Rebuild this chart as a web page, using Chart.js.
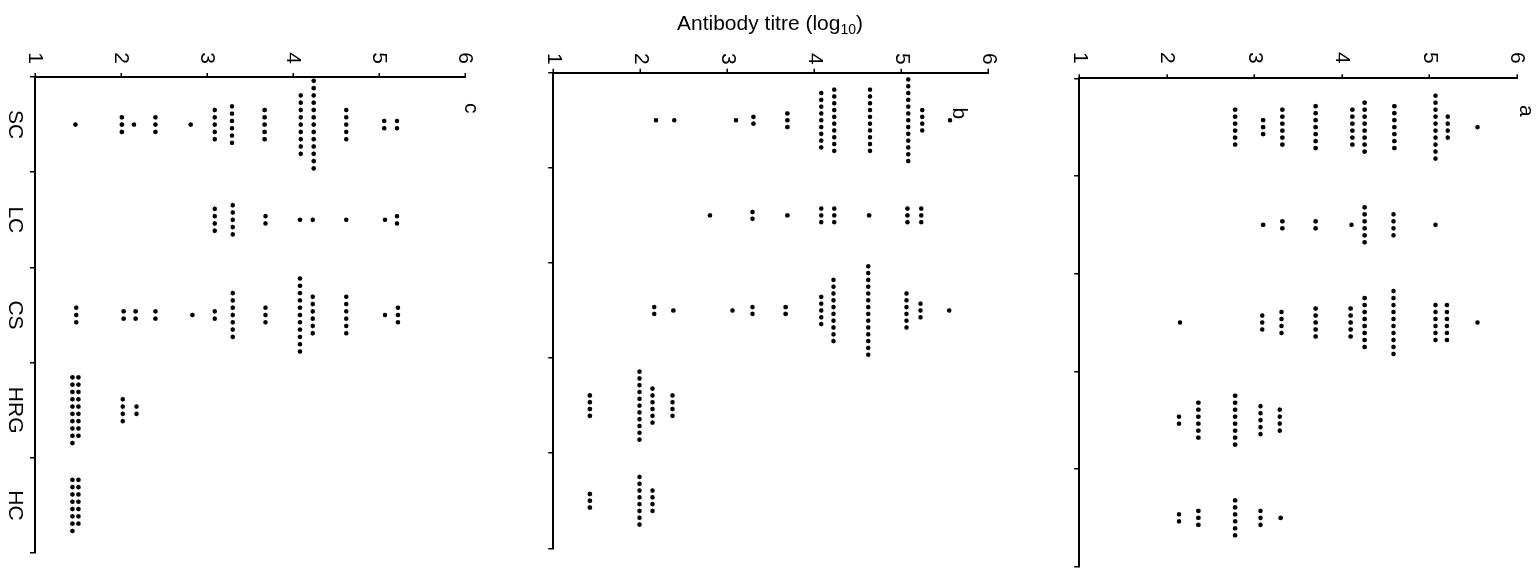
<!DOCTYPE html>
<html><head><meta charset="utf-8">
<script src="https://cdn.jsdelivr.net/npm/chart.js@4"></script>
<style>
html,body{margin:0;padding:0;background:#fff;overflow:hidden;width:1540px;height:569px;}
#title{position:absolute;left:0;top:11.5px;width:1540px;text-align:center;font-family:"Liberation Sans",Arial,sans-serif;font-size:21px;line-height:21px;color:#000;white-space:nowrap;}
#title sub{font-size:14px;vertical-align:baseline;position:relative;top:4px;}
#rot{position:absolute;left:0;top:0;width:569px;height:1540px;transform-origin:0 0;transform:translate(1540px,0) rotate(90deg);}
#rot canvas{position:absolute;left:0;}
</style></head>
<body>
<div id="rot">
<canvas id="pa" width="569" height="500" style="top:0px"></canvas>
<canvas id="pb" width="569" height="530" style="top:500px"></canvas>
<canvas id="pc" width="569" height="530" style="top:1030px"></canvas>
</div>
<div id="title">Antibody titre (log<sub>10</sub>)</div>
<script>
// ---------- data ----------
const categories = ['SC', 'LC', 'CS', 'HRG', 'HC'];
const titreTicks = [1, 2, 3, 4, 5, 6];
const panelNames = ['a', 'b', 'c'];

// each entry: [antibody titre (log10), number of sera with that titre]
// panel a
const a_SC  = [[2.78,6],[3.10,3],[3.32,6],[3.70,7],[4.12,6],[4.26,8],[4.60,7],[5.07,10],[5.21,4],[5.55,1]];
const a_LC  = [[3.10,1],[3.32,2],[3.70,2],[4.11,1],[4.26,6],[4.59,4],[5.07,1]];
const a_CS  = [[2.15,1],[3.09,3],[3.31,4],[3.70,5],[4.10,5],[4.26,8],[4.59,10],[5.07,6],[5.20,6],[5.55,1]];
const a_HRG = [[2.14,2],[2.36,6],[2.78,8],[3.07,5],[3.29,4]];
const a_HC  = [[2.14,2],[2.36,3],[2.78,6],[3.07,3],[3.30,1]];
// panel b
const b_SC  = [[2.18,1],[2.39,1],[3.10,1],[3.30,2],[3.69,3],[4.08,9],[4.23,10],[4.64,10],[5.08,13],[5.24,4],[5.56,1]];
const b_LC  = [[2.80,1],[3.29,2],[3.69,1],[4.08,3],[4.23,3],[4.63,1],[5.07,3],[5.23,3]];
const b_CS  = [[2.16,2],[2.38,1],[3.06,1],[3.29,2],[3.67,2],[4.08,5],[4.22,10],[4.62,14],[5.06,6],[5.22,3],[5.55,1]];
const b_HRG = [[1.42,4],[1.99,11],[2.14,6],[2.37,4]];
const b_HC  = [[1.42,3],[1.99,8],[2.14,4]];
// panel c
const c_SC  = [[1.47,1],[2.01,3],[2.15,1],[2.40,3],[2.81,1],[3.09,5],[3.29,6],[3.67,5],[4.09,9],[4.24,13],[4.62,5],[5.06,2],[5.21,2]];
const c_LC  = [[3.09,4],[3.30,5],[3.68,2],[4.08,1],[4.23,1],[4.62,1],[5.07,1],[5.21,2]];
const c_CS  = [[1.48,3],[2.03,2],[2.17,2],[2.40,2],[2.83,1],[3.09,2],[3.30,7],[3.68,3],[4.08,11],[4.23,6],[4.62,6],[5.07,1],[5.22,3]];
const c_HRG = [[1.47,19],[2.02,4],[2.18,2]];
const c_HC  = [[1.47,15]];

// ---------- layout / style ----------
const FONT = '"Liberation Sans", Arial, sans-serif';
const MAX_PER_COLUMN = 14;
const PAIR_HALF_GAP_PX = 3;
const Y_AXIS_W = 60;
const CANVAS_W = 569;

const panels = [
  {id:'pa', name:panelNames[0], groups:[a_SC,a_LC,a_CS,a_HRG,a_HC], L:78.3, R:567.7, T:17.7, B:460.7, H:500, xh:20, showCats:false, gap:7.0, tickPad:10.5, lab:{dx:32.5, dy:-2.7}},
  {id:'pb', name:panelNames[1], groups:[b_SC,b_LC,b_CS,b_HRG,b_HC], L:72.7, R:548.3, T:51.7, B:486.7, H:530, xh:20, showCats:false, gap:6.8, tickPad:4, lab:{dx:40.6, dy:35}},
  {id:'pc', name:panelNames[2], groups:[c_SC,c_LC,c_CS,c_HRG,c_HC], L:77, R:553, T:45, B:475, H:530, xh:40, showCats:true, gap:7.3, tickPad:9, lab:{dx:31.3, dy:0}}
];

function buildPoints(groupsByCat, gapPx, catPx, unitPx) {
  const pts = [];
  const step = gapPx / catPx;
  const pairOff = PAIR_HALF_GAP_PX / unitPx;
  groupsByCat.forEach((groups, ci) => {
    const centre = ci + 1;
    groups.forEach(([v, n]) => {
      if (n <= MAX_PER_COLUMN) {
        for (let k = 0; k < n; k++) pts.push({x: centre + (k - (n - 1) / 2) * step, y: v});
      } else {
        const rows = Math.ceil(n / 2);
        for (let k = 0; k < n; k++) {
          const r = Math.floor(k / 2), c = k % 2;
          pts.push({x: centre + (r - (rows - 1) / 2) * step, y: v + (c ? 1 : -1) * pairOff});
        }
      }
    });
  });
  return pts;
}

const panelLabelPlugin = {
  id: 'panelLabel',
  afterDraw(chart, args, opts) {
    const {ctx, chartArea} = chart;
    ctx.save();
    ctx.font = '21px ' + FONT;
    ctx.fillStyle = '#000';
    ctx.textAlign = 'center';
    ctx.textBaseline = 'alphabetic';
    ctx.fillText(opts.text, chartArea.left + opts.dx, chartArea.top + opts.dy);
    ctx.restore();
  }
};

Chart.defaults.font.family = FONT;
Chart.defaults.color = '#000';

panels.forEach(p => {
  const catPx = (p.R - p.L) / categories.length;
  const unitPx = (p.B - p.T) / (titreTicks[titreTicks.length - 1] - titreTicks[0]);
  const pts = buildPoints(p.groups, p.gap, catPx, unitPx);
  new Chart(document.getElementById(p.id), {
    type: 'scatter',
    data: {datasets: [{data: pts, backgroundColor: '#000', borderWidth: 0, pointRadius: 2.3, pointHoverRadius: 2.3}]},
    plugins: [panelLabelPlugin],
    options: {
      responsive: false,
      animation: false,
      devicePixelRatio: 1,
      events: [],
      layout: {padding: {left: p.L - Y_AXIS_W, right: CANVAS_W - p.R, top: p.T, bottom: p.H - p.B - p.xh}},
      plugins: {legend: {display: false}, tooltip: {enabled: false}, panelLabel: {text: p.name, dx: p.lab.dx, dy: p.lab.dy}},
      scales: {
        x: {
          type: 'linear', position: 'bottom',
          min: 0.5, max: categories.length + 0.5,
          afterBuildTicks: s => { s.ticks = categories.map((c, i) => ({value: i + 1})); },
          afterFit: s => { s.height = p.xh; },
          grid: {offset: true, drawOnChartArea: false, drawTicks: true, tickLength: 5, color: '#000', lineWidth: 1.5},
          border: {display: true, color: '#000', width: 2},
          ticks: {display: p.showCats, autoSkip: false, maxRotation: 0, minRotation: 0, padding: 3,
                  font: {size: 21}, color: '#000',
                  callback: v => categories[Math.round(v) - 1]}
        },
        y: {
          type: 'linear', position: 'left',
          min: titreTicks[0], max: titreTicks[titreTicks.length - 1],
          afterBuildTicks: s => { s.ticks = titreTicks.map(v => ({value: v})); },
          afterFit: s => { s.width = Y_AXIS_W; },
          grid: {drawOnChartArea: false, drawTicks: true, tickLength: 4, color: '#000', lineWidth: 1.5},
          border: {display: true, color: '#000', width: 2},
          ticks: {padding: p.tickPad, font: {size: 21}, color: '#000', callback: v => String(v)}
        }
      }
    }
  });
});
</script>
</body></html>
